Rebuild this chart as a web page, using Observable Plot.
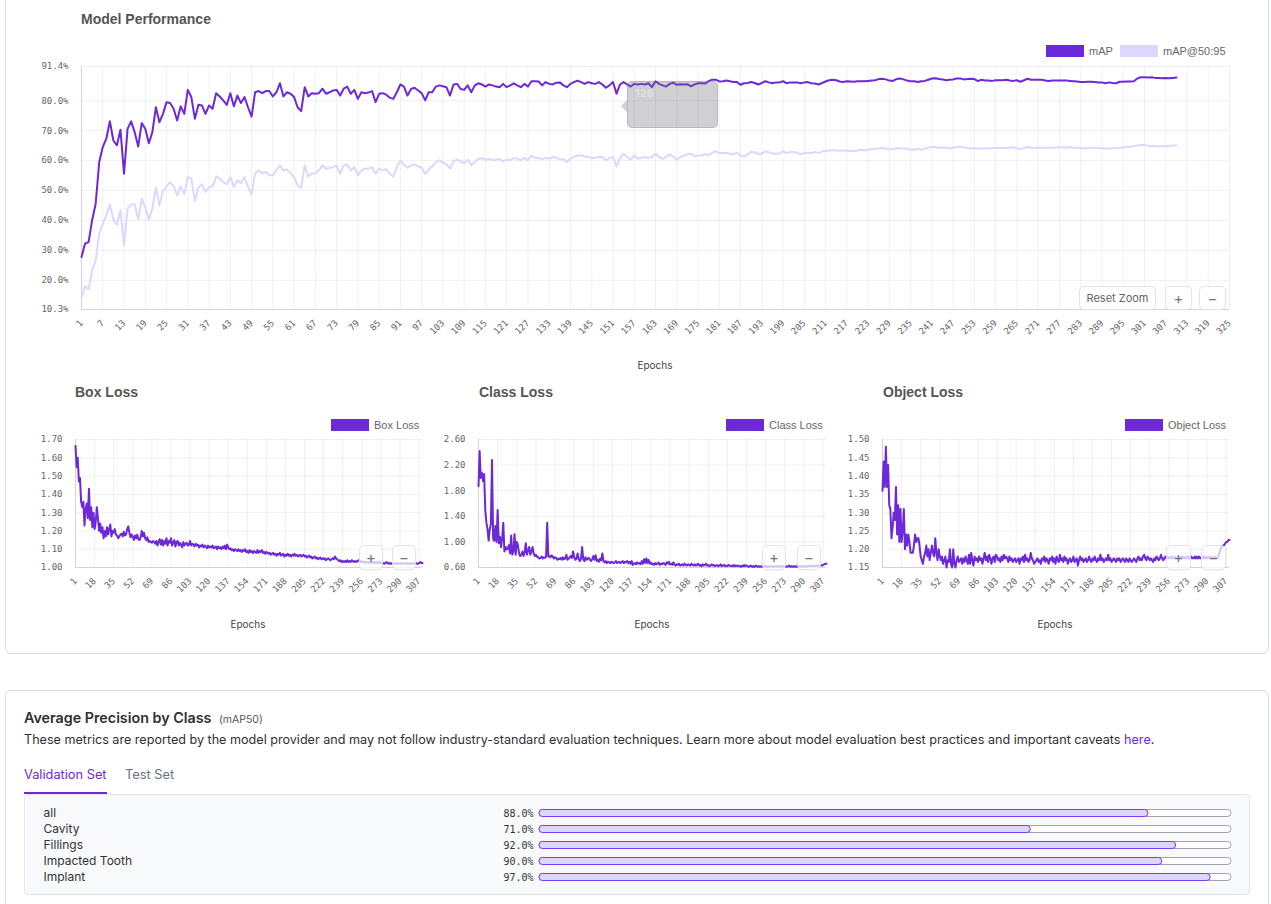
<!DOCTYPE html>
<html>
<head>
<meta charset="utf-8">
<script src="https://cdn.jsdelivr.net/npm/d3@7"></script>
<script src="https://cdn.jsdelivr.net/npm/@observablehq/plot@0.6"></script>
<style>
  body { margin: 0; background: #fff; }
  #root { position: relative; width: 1271px; height: 904px; overflow: hidden; font-family: Inter, sans-serif; }
  .card { position: absolute; border: 1px solid #dadae2; border-radius: 6px; background: #fff; box-sizing: border-box; }
  .title { position: absolute; font: bold 14px "Liberation Sans", Arial, sans-serif; color: #555; white-space: nowrap; line-height: 14px; }
  .leg { position: absolute; display: flex; align-items: center; font: 11px "Liberation Sans", Arial, sans-serif; color: #666; white-space: nowrap; height: 12px; }
  .sw { box-sizing: border-box; width: 38px; height: 12px; border: 1px solid; margin-right: 5px; }
  .xl { position: absolute; font: 10px Inter, sans-serif; color: #444; transform: translateX(-50%); line-height: 12px; }
  .btn { position: absolute; box-sizing: border-box; background: rgba(255,255,255,0.72); border: 1px solid #e3e3ea; border-radius: 5px; color: #666; display: flex; align-items: center; justify-content: center; font: 11px Inter, sans-serif; box-shadow: 0 1px 2px rgba(0,0,0,0.04); }
  .btn.sym { font-size: 15px; color: #777; }
  .slot { position: absolute; }
  .slot svg { display: block; overflow: visible; }
</style>
</head>
<body>
<div id="root">
  <div class="card" style="left:5px; top:-10px; width:1264px; height:664px;"></div>
  <div class="card" style="left:5px; top:690px; width:1264px; height:240px;"></div>

  <div class="title" style="left:81px; top:12px;">Model Performance</div>
  <div class="leg" style="left:1046px; top:45px;"><div class="sw" style="background:#6d28d9;border-color:#6d28d9"></div>mAP</div>
  <div class="leg" style="left:1120px; top:45px;"><div class="sw" style="background:#ddd6fe;border-color:#ddd6fe"></div>mAP@50:95</div>
  <div class="slot" id="top" style="left:0; top:40px;"></div>
  <div class="xl" style="left:655px; top:359px;">Epochs</div>

  <div class="title" style="left:75px; top:385px;">Box Loss</div>
  <div class="title" style="left:479px; top:385px;">Class Loss</div>
  <div class="title" style="left:883px; top:385px;">Object Loss</div>
  <div class="leg" style="left:331px; top:419px;"><div class="sw" style="background:#6d28d9;border-color:#6d28d9"></div>Box Loss</div>
  <div class="leg" style="left:726px; top:419px;"><div class="sw" style="background:#6d28d9;border-color:#6d28d9"></div>Class Loss</div>
  <div class="leg" style="left:1125px; top:419px;"><div class="sw" style="background:#6d28d9;border-color:#6d28d9"></div>Object Loss</div>
  <div class="slot" id="box" style="left:0; top:430px;"></div>
  <div class="slot" id="cls" style="left:430px; top:430px;"></div>
  <div class="slot" id="obj" style="left:830px; top:430px;"></div>
  <div class="xl" style="left:248px; top:618px;">Epochs</div>
  <div class="xl" style="left:652px; top:618px;">Epochs</div>
  <div class="xl" style="left:1055px; top:618px;">Epochs</div>

  <!-- zoom controls -->
  <div class="btn" style="left:1079px; top:286px; width:77px; height:24px;">Reset Zoom</div>
  <div class="btn sym" style="left:1165px; top:286px; width:27px; height:24px;">+</div>
  <div class="btn sym" style="left:1199px; top:286px; width:27px; height:24px;">−</div>
  <div class="btn sym" style="left:359px; top:545px; width:24px; height:25px;">+</div>
  <div class="btn sym" style="left:392px; top:545px; width:24px; height:25px;">−</div>
  <div class="btn sym" style="left:762px; top:545px; width:24px; height:25px;">+</div>
  <div class="btn sym" style="left:797px; top:545px; width:24px; height:25px;">−</div>
  <div class="btn sym" style="left:1166px; top:545px; width:25px; height:25px;">+</div>
  <div class="btn sym" style="left:1201px; top:545px; width:25px; height:25px;">−</div>

  <!-- fading hover tooltip -->
  <div style="position:absolute; left:627px; top:81px; width:91px; height:47px; box-sizing:border-box; background:rgba(110,110,115,0.32); border:1px solid rgba(140,110,220,0.3); border-radius:5px;"></div>
  <div style="position:absolute; left:621px; top:100px; width:0; height:0; border-top:6px solid transparent; border-bottom:6px solid transparent; border-right:6px solid rgba(110,110,115,0.32);"></div>
  <div style="position:absolute; left:635px; top:86px; font:bold 11px Inter,sans-serif; color:rgba(255,255,255,0.35);">126</div>

  <!-- average precision section -->
  <div style="position:absolute; left:24px; top:709px; font:600 14.3px/18px Inter,sans-serif; color:#2f2f37; white-space:nowrap;">Average Precision by Class <span style="font-weight:400; font-size:10.5px; color:#555; margin-left:4px;">(mAP50)</span></div>
  <div style="position:absolute; left:24px; top:731px; font:12.6px/18px Inter,sans-serif; color:#2f2f37; white-space:nowrap;">These metrics are reported by the model provider and may not follow industry-standard evaluation techniques. Learn more about model evaluation best practices and important caveats <span style="color:#6d28d9">here</span>.</div>
  <div style="position:absolute; left:24px; top:766px; font:12.8px/18px Inter,sans-serif; color:#6d28d9; white-space:nowrap;">Validation Set</div>
  <div style="position:absolute; left:125px; top:766px; font:12.8px/18px Inter,sans-serif; color:#6b7280; white-space:nowrap;">Test Set</div>
  <div style="position:absolute; left:24px; top:792px; width:83px; height:2px; background:#6d28d9;"></div>
  <div style="position:absolute; left:24px; top:794px; width:1226px; height:101px; box-sizing:border-box; background:#f8f9fb; border:1px solid #e5e6eb; border-radius:4px;"></div>
  <div class="slot" id="ap" style="left:24px; top:795px;"></div>
</div>

<script>
// mAP (%) per epoch, epochs 1..310
const mapValues = [
  27.8, 32.3, 32.8, 40.1, 45.6, 59.5, 64.5, 67.3, 73.1, 66.7,
  65.1, 70.3, 55.6, 70.6, 73.1, 69.5, 64.7, 72.5, 70.6, 65.8,
  69.5, 77.8, 72.8, 75.6, 79.5, 79.2, 77.3, 73.4, 78.1, 75.6,
  83.6, 81.2, 74.0, 78.6, 78.4, 75.6, 78.4, 77.3, 82.5, 81.4,
  80.1, 78.6, 82.5, 78.1, 81.7, 79.2, 81.2, 77.8, 74.7, 82.8,
  83.2, 82.5, 83.2, 83.2, 81.4, 82.8, 85.8, 81.4, 82.8, 82.3,
  81.2, 77.8, 76.5, 84.5, 81.4, 82.5, 82.3, 82.5, 84.0, 82.3,
  82.8, 83.4, 83.6, 81.7, 84.0, 84.7, 82.3, 83.6, 80.6, 82.8,
  82.5, 82.7, 83.2, 79.5, 82.3, 82.5, 82.0, 81.0, 80.6, 82.8,
  85.4, 84.7, 81.7, 83.9, 84.3, 83.4, 82.5, 80.1, 82.8, 82.8,
  84.7, 85.1, 84.8, 84.5, 81.7, 85.4, 85.6, 83.9, 83.6, 85.1,
  82.8, 85.1, 85.8, 85.4, 84.7, 85.4, 85.1, 84.7, 84.5, 85.6,
  84.5, 85.1, 85.8, 85.1, 84.5, 85.6, 84.7, 86.5, 86.5, 86.4,
  85.1, 86.2, 85.6, 85.4, 86.0, 86.1, 85.1, 84.5, 85.6, 86.2,
  86.7, 86.2, 85.6, 86.2, 85.8, 85.6, 86.2, 85.4, 84.3, 85.1,
  86.2, 82.3, 85.4, 86.2, 85.4, 84.7, 85.6, 85.4, 85.6, 85.4,
  85.8, 84.5, 86.5, 85.6, 85.1, 84.7, 85.6, 86.0, 85.3, 85.5,
  85.4, 85.5, 84.8, 85.4, 85.8, 85.8, 85.7, 86.5, 87.0, 87.0,
  86.4, 86.5, 86.7, 86.5, 86.2, 86.2, 85.3, 85.8, 85.9, 86.2,
  85.9, 85.4, 85.9, 86.5, 86.1, 85.8, 86.1, 86.1, 86.5, 85.8,
  86.1, 86.1, 86.1, 85.8, 86.1, 86.2, 85.8, 85.7, 85.4, 85.9,
  86.4, 86.8, 87.0, 86.8, 86.4, 86.2, 86.5, 86.4, 86.3, 86.5,
  86.5, 86.5, 86.6, 86.7, 86.8, 87.2, 87.3, 87.1, 86.7, 86.6,
  87.2, 87.4, 87.1, 86.7, 86.5, 86.5, 86.2, 86.5, 86.6, 87.0,
  87.4, 87.5, 87.2, 87.1, 86.8, 87.0, 87.1, 87.4, 87.4, 87.1,
  87.2, 87.3, 87.2, 86.5, 87.0, 86.7, 86.7, 86.6, 86.8, 86.8,
  86.8, 87.0, 86.7, 86.6, 86.8, 86.3, 86.8, 87.3, 87.0, 87.0,
  87.0, 87.0, 86.7, 86.6, 86.7, 86.7, 86.7, 86.7, 86.7, 86.6,
  86.5, 86.4, 86.2, 86.2, 86.3, 86.3, 86.2, 86.1, 86.1, 85.8,
  86.1, 85.9, 85.8, 86.3, 86.3, 86.4, 86.4, 86.5, 87.4, 87.8,
  87.8, 87.7, 87.8, 87.6, 87.6, 87.5, 87.6, 87.5, 87.6, 87.7
];

// mAP@50:95 (%) per epoch
const map5095Values = [
  14.3, 18.1, 17.0, 23.4, 26.7, 35.6, 39.0, 41.7, 45.4, 40.3,
  38.6, 43.4, 31.7, 44.0, 45.4, 45.4, 40.3, 47.3, 44.5, 40.3,
  44.0, 51.0, 45.1, 49.8, 51.4, 52.8, 51.4, 48.4, 51.4, 48.9,
  54.5, 54.0, 46.5, 51.0, 52.1, 49.5, 51.2, 51.4, 54.7, 54.0,
  52.8, 52.1, 54.5, 51.2, 53.4, 52.5, 54.5, 51.2, 48.7, 55.8,
  56.7, 55.8, 56.2, 55.1, 55.1, 56.7, 58.4, 56.7, 57.0, 55.8,
  54.5, 51.7, 51.0, 58.4, 54.7, 55.6, 55.8, 56.7, 58.4, 57.3,
  57.6, 57.8, 58.4, 55.6, 58.4, 58.7, 56.7, 57.8, 55.1, 56.7,
  57.3, 57.3, 57.8, 55.6, 57.3, 56.7, 57.1, 55.6, 54.7, 57.8,
  60.1, 58.6, 57.6, 58.4, 58.7, 58.1, 57.6, 55.6, 57.0, 58.1,
  59.5, 60.1, 59.3, 58.7, 57.3, 59.8, 60.3, 59.8, 59.0, 60.3,
  58.4, 59.5, 60.5, 60.8, 60.3, 60.6, 60.1, 60.3, 60.5, 59.7,
  60.3, 60.1, 60.9, 60.6, 60.1, 60.9, 60.1, 61.7, 60.9, 60.9,
  60.5, 60.9, 60.6, 61.2, 60.9, 60.4, 60.5, 59.5, 60.6, 61.3,
  61.7, 61.7, 61.4, 61.2, 60.9, 60.9, 61.2, 61.2, 60.1, 60.9,
  61.2, 58.1, 60.9, 62.3, 61.2, 60.3, 61.7, 60.6, 60.9, 61.2,
  60.9, 61.2, 62.3, 61.2, 60.6, 61.2, 62.1, 61.4, 60.3, 61.2,
  61.6, 62.1, 62.3, 61.4, 61.7, 61.7, 62.2, 61.8, 62.6, 63.1,
  62.5, 62.5, 62.6, 62.3, 62.1, 62.6, 61.7, 61.4, 62.1, 62.9,
  62.8, 62.2, 62.3, 63.1, 62.8, 62.3, 62.4, 62.3, 63.1, 62.5,
  62.9, 62.9, 62.5, 62.1, 62.5, 62.5, 62.5, 62.9, 62.5, 63.0,
  63.2, 63.4, 63.5, 63.4, 63.3, 63.4, 63.4, 63.2, 63.2, 63.4,
  63.6, 63.4, 63.6, 63.8, 64.0, 64.0, 64.3, 64.0, 63.8, 63.8,
  64.2, 64.0, 64.0, 64.0, 63.6, 63.6, 64.0, 63.6, 64.0, 64.3,
  64.5, 64.5, 64.3, 64.3, 64.3, 64.0, 64.3, 64.6, 64.6, 64.4,
  64.3, 64.1, 64.0, 64.0, 64.0, 64.2, 64.0, 64.1, 64.2, 64.2,
  64.2, 64.2, 64.4, 64.4, 64.1, 63.8, 64.3, 64.5, 64.3, 64.2,
  64.3, 64.3, 64.3, 64.3, 64.3, 64.4, 64.5, 64.3, 64.4, 64.5,
  64.3, 64.3, 64.2, 64.0, 64.1, 64.3, 64.3, 64.2, 64.0, 64.0,
  64.0, 64.1, 64.1, 64.3, 64.4, 64.5, 64.6, 64.8, 65.0, 65.2,
  65.3, 64.9, 64.8, 64.9, 64.7, 64.9, 64.7, 64.9, 65.0, 65.0
];

// Box loss per epoch
const boxLoss = [
  1.665, 1.55, 1.60, 1.47, 1.49, 1.36, 1.33, 1.36, 1.23, 1.32,
  1.35, 1.27, 1.43, 1.26, 1.33, 1.22, 1.30, 1.21, 1.25, 1.33,
  1.27, 1.20, 1.24, 1.19, 1.22, 1.16, 1.20, 1.17, 1.22, 1.18,
  1.21, 1.235, 1.17, 1.20, 1.19, 1.21, 1.18, 1.175, 1.16, 1.17,
  1.18, 1.185, 1.17, 1.195, 1.175, 1.18, 1.21, 1.225, 1.19, 1.165,
  1.18, 1.17, 1.15, 1.175, 1.16, 1.18, 1.155, 1.15, 1.165, 1.20,
  1.17, 1.19, 1.16, 1.15, 1.165, 1.14, 1.145, 1.14, 1.135, 1.145,
  1.14, 1.13, 1.145, 1.12, 1.14, 1.155, 1.125, 1.15, 1.12, 1.145,
  1.13, 1.16, 1.12, 1.145, 1.135, 1.16, 1.12, 1.135, 1.15, 1.115,
  1.14, 1.145, 1.12, 1.135, 1.125, 1.11, 1.14, 1.12, 1.13, 1.135,
  1.12, 1.125, 1.145, 1.12, 1.13, 1.125, 1.115, 1.13, 1.12, 1.125,
  1.11, 1.12, 1.115, 1.125, 1.11, 1.12, 1.115, 1.105, 1.12, 1.11,
  1.115, 1.11, 1.12, 1.105, 1.11, 1.115, 1.10, 1.115, 1.105, 1.11,
  1.10, 1.115, 1.105, 1.12, 1.10, 1.125, 1.11, 1.10, 1.105, 1.095,
  1.10, 1.09, 1.10, 1.095, 1.09, 1.10, 1.09, 1.095, 1.085, 1.095,
  1.09, 1.10, 1.085, 1.09, 1.08, 1.095, 1.085, 1.09, 1.08, 1.09,
  1.085, 1.08, 1.095, 1.08, 1.09, 1.085, 1.095, 1.08, 1.085, 1.075,
  1.085, 1.08, 1.075, 1.08, 1.07, 1.075, 1.08, 1.07, 1.075, 1.065,
  1.075, 1.07, 1.08, 1.065, 1.07, 1.075, 1.06, 1.07, 1.065, 1.075,
  1.065, 1.07, 1.06, 1.07, 1.065, 1.075, 1.065, 1.07, 1.06, 1.065,
  1.07, 1.06, 1.065, 1.07, 1.06, 1.065, 1.055, 1.06, 1.065, 1.055,
  1.06, 1.05, 1.055, 1.06, 1.05, 1.055, 1.045, 1.05, 1.055, 1.045,
  1.05, 1.045, 1.05, 1.04, 1.045, 1.05, 1.045, 1.04, 1.045, 1.05,
  1.045, 1.06, 1.05, 1.045, 1.04, 1.035, 1.04, 1.03, 1.035, 1.03,
  1.035, 1.03, 1.04, 1.03, 1.035, 1.03, 1.04, 1.035, 1.03, 1.035,
  1.03, 1.035, 1.04, 1.035, 1.03, 1.035, 1.03, 1.03, 1.025, 1.03,
  1.03, 1.025, 1.03, 1.03, 1.025, 1.03, 1.025, 1.03, 1.025, 1.03,
  1.025, 1.03, 1.025, 1.02, 1.025, 1.02, 1.025, 1.03, 1.025, 1.02,
  1.025, 1.02, 1.025, 1.02, 1.02, 1.025, 1.02, 1.025, 1.02, 1.02,
  1.025, 1.02, 1.02, 1.025, 1.02, 1.025, 1.02, 1.02, 1.025, 1.02,
  1.02, 1.025, 1.02, 1.025, 1.02, 1.02, 1.025, 1.03, 1.025, 1.025
];

// Class loss per epoch
const classLoss = [
  1.87, 2.42, 2.00, 2.08, 1.95, 2.06, 1.50, 1.30, 1.20, 1.02,
  1.20, 1.28, 2.28, 1.05, 1.02, 1.25, 1.00, 1.50, 0.98, 1.08,
  0.92, 1.05, 1.30, 0.85, 0.92, 0.88, 0.90, 0.95, 0.82, 1.10,
  0.80, 0.85, 1.12, 0.80, 1.00, 0.95, 0.82, 0.78, 0.80, 0.85,
  0.78, 0.84, 0.98, 0.80, 0.86, 0.92, 0.80, 0.85, 0.92, 0.82,
  0.78, 0.80, 0.77, 0.76, 0.74, 0.75, 0.77, 0.74, 0.76, 0.75,
  0.77, 1.30, 0.77, 0.78, 0.76, 0.79, 0.77, 0.74, 0.76, 0.75,
  0.72, 0.74, 0.73, 0.75, 0.72, 0.76, 0.73, 0.74, 0.80, 0.72,
  0.74, 0.76, 0.78, 0.75, 0.85, 0.76, 0.72, 0.74, 0.82, 0.73,
  0.70, 0.74, 0.92, 0.73, 0.70, 0.76, 0.72, 0.74, 0.75, 0.72,
  0.70, 0.73, 0.78, 0.72, 0.79, 0.70, 0.72, 0.69, 0.74, 0.71,
  0.82, 0.70, 0.68, 0.70, 0.67, 0.69, 0.68, 0.67, 0.69, 0.68,
  0.67, 0.68, 0.70, 0.67, 0.68, 0.69, 0.67, 0.68, 0.70, 0.67,
  0.69, 0.68, 0.70, 0.67, 0.69, 0.66, 0.70, 0.64, 0.66, 0.67,
  0.65, 0.68, 0.66, 0.67, 0.65, 0.70, 0.66, 0.73, 0.67, 0.74,
  0.67, 0.72, 0.66, 0.68, 0.65, 0.66, 0.64, 0.67, 0.65, 0.66,
  0.68, 0.64, 0.66, 0.65, 0.67, 0.66, 0.64, 0.68, 0.66, 0.69,
  0.65, 0.66, 0.64, 0.68, 0.65, 0.63, 0.65, 0.64, 0.66, 0.63,
  0.64, 0.65, 0.63, 0.66, 0.64, 0.63, 0.65, 0.64, 0.63, 0.66,
  0.64, 0.63, 0.65, 0.63, 0.64, 0.66, 0.63, 0.64, 0.62, 0.65,
  0.63, 0.64, 0.66, 0.63, 0.64, 0.62, 0.63, 0.65, 0.63, 0.64,
  0.62, 0.63, 0.64, 0.62, 0.63, 0.65, 0.62, 0.63, 0.64, 0.62,
  0.63, 0.62, 0.64, 0.63, 0.62, 0.63, 0.62, 0.64, 0.62, 0.63,
  0.62, 0.63, 0.62, 0.61, 0.63, 0.62, 0.64, 0.62, 0.63, 0.62,
  0.61, 0.62, 0.63, 0.61, 0.62, 0.61, 0.63, 0.62, 0.61, 0.62,
  0.61, 0.62, 0.61, 0.62, 0.63, 0.61, 0.62, 0.61, 0.62, 0.61,
  0.62, 0.61, 0.62, 0.61, 0.62, 0.62, 0.61, 0.62, 0.61, 0.62,
  0.61, 0.62, 0.61, 0.62, 0.61, 0.62, 0.63, 0.61, 0.62, 0.61,
  0.62, 0.61, 0.62, 0.61, 0.62, 0.62, 0.61, 0.62, 0.62, 0.61,
  0.62, 0.62, 0.61, 0.62, 0.62, 0.63, 0.62, 0.62, 0.63, 0.62,
  0.63, 0.62, 0.63, 0.63, 0.64, 0.63, 0.64, 0.65, 0.66, 0.66
];

// Object loss per epoch
const objectLoss = [
  1.36, 1.44, 1.37, 1.48, 1.37, 1.43, 1.32, 1.31, 1.23, 1.26,
  1.30, 1.28, 1.37, 1.24, 1.32, 1.22, 1.31, 1.22, 1.25, 1.31,
  1.20, 1.24, 1.21, 1.24, 1.22, 1.19, 1.19, 1.19, 1.21, 1.24,
  1.22, 1.23, 1.23, 1.21, 1.18, 1.17, 1.16, 1.18, 1.19, 1.21,
  1.18, 1.20, 1.17, 1.19, 1.21, 1.19, 1.18, 1.23, 1.19, 1.17,
  1.20, 1.18, 1.17, 1.18, 1.16, 1.17, 1.18, 1.15, 1.17, 1.165,
  1.20, 1.16, 1.15, 1.20, 1.16, 1.15, 1.17, 1.18, 1.165, 1.17,
  1.175, 1.16, 1.175, 1.165, 1.18, 1.17, 1.16, 1.185, 1.16, 1.19,
  1.17, 1.155, 1.18, 1.17, 1.175, 1.165, 1.18, 1.17, 1.175, 1.16,
  1.175, 1.19, 1.17, 1.18, 1.165, 1.185, 1.175, 1.16, 1.175, 1.18,
  1.165, 1.185, 1.18, 1.17, 1.175, 1.165, 1.18, 1.17, 1.185, 1.175,
  1.18, 1.175, 1.165, 1.18, 1.17, 1.175, 1.165, 1.17, 1.175, 1.165,
  1.17, 1.175, 1.16, 1.175, 1.17, 1.18, 1.165, 1.185, 1.17, 1.175,
  1.165, 1.17, 1.19, 1.175, 1.17, 1.16, 1.165, 1.17, 1.175, 1.165,
  1.17, 1.16, 1.175, 1.17, 1.18, 1.165, 1.175, 1.17, 1.16, 1.175,
  1.17, 1.18, 1.165, 1.175, 1.16, 1.18, 1.17, 1.165, 1.185, 1.17,
  1.175, 1.165, 1.18, 1.17, 1.175, 1.16, 1.17, 1.175, 1.165, 1.17,
  1.18, 1.165, 1.17, 1.175, 1.155, 1.17, 1.18, 1.17, 1.175, 1.165,
  1.17, 1.175, 1.165, 1.17, 1.18, 1.17, 1.165, 1.175, 1.17, 1.18,
  1.17, 1.165, 1.175, 1.17, 1.185, 1.17, 1.175, 1.165, 1.17, 1.175,
  1.17, 1.185, 1.17, 1.175, 1.165, 1.17, 1.175, 1.17, 1.165, 1.175,
  1.17, 1.175, 1.165, 1.17, 1.175, 1.17, 1.165, 1.175, 1.17, 1.165,
  1.175, 1.17, 1.165, 1.17, 1.175, 1.17, 1.165, 1.175, 1.18, 1.17,
  1.175, 1.17, 1.18, 1.185, 1.175, 1.17, 1.18, 1.175, 1.17, 1.175,
  1.17, 1.165, 1.175, 1.17, 1.18, 1.175, 1.17, 1.175, 1.185, 1.175,
  1.17, 1.175, 1.18, 1.175, 1.18, 1.175, 1.175, 1.18, 1.175, 1.175,
  1.18, 1.175, 1.175, 1.18, 1.175, 1.175, 1.18, 1.175, 1.18, 1.175,
  1.175, 1.18, 1.175, 1.18, 1.175, 1.18, 1.175, 1.175, 1.18, 1.175,
  1.18, 1.175, 1.18, 1.175, 1.175, 1.18, 1.175, 1.18, 1.175, 1.175,
  1.18, 1.175, 1.175, 1.18, 1.175, 1.175, 1.18, 1.175, 1.175, 1.18,
  1.19, 1.20, 1.205, 1.21, 1.21, 1.215, 1.22, 1.22, 1.225, 1.225
];

// Axis tick values
const perfXTicks = d3.range(1, 326, 6);            // 1, 7, 13, ... 325
const lossXTicks = d3.range(1, 308, 17);           // 1, 18, 35, ... 307
const perfYTicks = [10.3, 20, 30, 40, 50, 60, 70, 80, 91.4];
const boxYTicks = [1.0, 1.1, 1.2, 1.3, 1.4, 1.5, 1.6, 1.7];
const classYTicks = [0.6, 1.0, 1.4, 1.8, 2.2, 2.6];
const objectYTicks = [1.15, 1.2, 1.25, 1.3, 1.35, 1.4, 1.45, 1.5];

// Average precision by class (mAP50, validation set)
const classNames = ["all", "Cavity", "Fillings", "Impacted Tooth", "Implant"];
const classAP = [88.0, 71.0, 92.0, 90.0, 97.0];

const DARK = "#6d28d9";
const LIGHT = "#ddd6fe";
const MONO = "'DejaVu Sans Mono', monospace";

const epochOf = (d, i) => i + 1;

function frameMarks(xTicks, yTicks, xDomain, yDomain, yFormat) {
  return [
    Plot.gridX(xTicks, {stroke: "#000", strokeOpacity: 0.06}),
    Plot.gridY(yTicks, {stroke: "#000", strokeOpacity: 0.06}),
    Plot.ruleX([xDomain[0]], {stroke: "#d4d4d8"}),
    Plot.ruleY([yDomain[0]], {stroke: "#d4d4d8"}),
    Plot.axisY(yTicks, {tickSize: 0, tickPadding: 13, tickFormat: yFormat, label: null,
      fontFamily: MONO, fontSize: 9, fill: "#666"}),
    Plot.axisX(xTicks, {tickSize: 0, tickPadding: 12, tickRotate: -45, label: null,
      fontFamily: MONO, fontSize: 9, fill: "#666"})
  ];
}

function lossChart(values, yTicks, yDomain, fmt, width, marginLeft, marginRight) {
  const xDomain = [1, 310];
  return Plot.plot({
    width, height: 210,
    marginLeft, marginRight, marginTop: 9, marginBottom: 73,
    style: {fontFamily: MONO, fontSize: "9px", color: "#666", background: "transparent", overflow: "visible"},
    x: {domain: xDomain},
    y: {domain: yDomain},
    marks: [
      ...frameMarks(lossXTicks, yTicks, xDomain, yDomain, fmt),
      Plot.line(values, {x: epochOf, y: d => d, stroke: DARK, strokeWidth: 2, strokeLinejoin: "round"})
    ]
  });
}

// Model performance chart
const perfDomainX = [1, 325];
const perfDomainY = [10.3, 91.4];
document.getElementById("top").append(Plot.plot({
  width: 1271, height: 310,
  marginLeft: 81, marginRight: 42, marginTop: 26, marginBottom: 41,
  style: {fontFamily: MONO, fontSize: "9px", color: "#666", background: "transparent", overflow: "visible"},
  x: {domain: perfDomainX},
  y: {domain: perfDomainY},
  marks: [
    ...frameMarks(perfXTicks, perfYTicks, perfDomainX, perfDomainY, v => v.toFixed(1) + "%"),
    Plot.line(map5095Values, {x: epochOf, y: d => d, stroke: LIGHT, strokeWidth: 2, strokeLinejoin: "round"}),
    Plot.line(mapValues, {x: epochOf, y: d => d, stroke: DARK, strokeWidth: 2, strokeLinejoin: "round"})
  ]
}));

document.getElementById("box").append(lossChart(boxLoss, boxYTicks, [1.0, 1.7], v => v.toFixed(2), 430, 75, 8));
document.getElementById("cls").append(lossChart(classLoss, classYTicks, [0.6, 2.6], v => v.toFixed(2), 420, 48, 24));
document.getElementById("obj").append(lossChart(objectLoss, objectYTicks, [1.15, 1.5], v => v.toFixed(2), 441, 52, 42));

// Average precision bars
const apRows = classNames.map((name, i) => ({name, ap: classAP[i]}));
document.getElementById("ap").append(Plot.plot({
  width: 1226, height: 100,
  marginLeft: 515, marginRight: 19, marginTop: 10, marginBottom: 10,
  style: {background: "transparent", overflow: "visible"},
  x: {domain: [0, 100], axis: null},
  y: {domain: classNames, axis: null, padding: 0},
  marks: [
    Plot.barX(apRows, {x1: 0, x2: () => 100, y: "name", fill: "#fff", stroke: "#a1a1aa", strokeWidth: 1,
      insetTop: 4.5, insetBottom: 4.5, rx: 3.5}),
    Plot.barX(apRows, {x1: 0, x2: "ap", y: "name", fill: LIGHT, stroke: "#7c3aed", strokeWidth: 1,
      insetTop: 4.5, insetBottom: 4.5, rx: 3.5}),
    Plot.text(apRows, {y: "name", text: "name", frameAnchor: "left", dx: -496, textAnchor: "start",
      fontFamily: "Inter, sans-serif", fontSize: 12, fill: "#333"}),
    Plot.text(apRows, {y: "name", text: d => d.ap.toFixed(1) + "%", frameAnchor: "left", dx: -6, textAnchor: "end",
      fontFamily: MONO, fontSize: 10, fill: "#333"})
  ]
}));
</script>
</body>
</html>
